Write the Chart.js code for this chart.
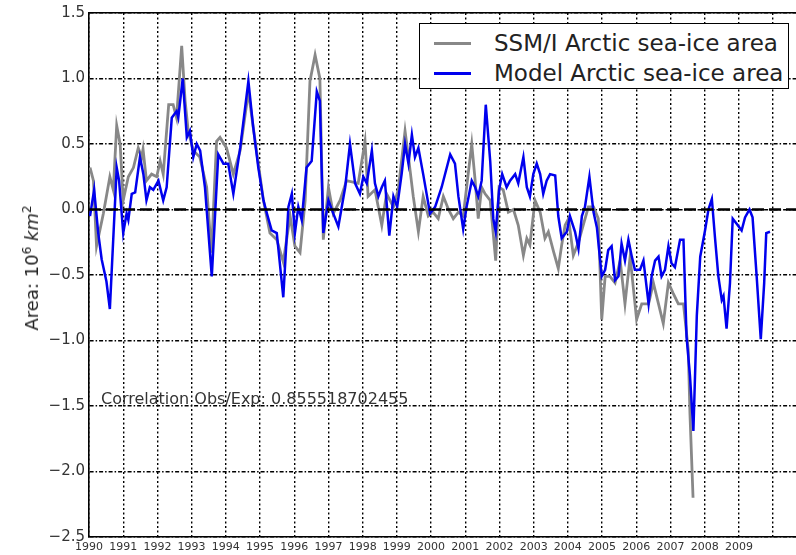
<!DOCTYPE html>
<html>
<head>
<meta charset="utf-8">
<title>Arctic sea-ice area anomaly</title>
<script src="https://cdn.jsdelivr.net/npm/chart.js@4.4.0/dist/chart.umd.min.js"></script>
<style>
  body { margin: 0; background: #fff; font-family: "DejaVu Sans", sans-serif; }
  #wrap { position: relative; width: 796px; height: 555px; overflow: hidden; }
  #ylabel {
    position: absolute; left: 31px; top: 268px;
    transform: translate(-50%, -50%) rotate(-90deg);
    font-size: 18px; color: #222; white-space: nowrap;
  }
  #ylabel sup { font-size: 12px; }
  #corr {
    position: absolute; left: 101px; top: 391px;
    font-size: 16px; line-height: 16px; color: #333; white-space: nowrap;
  }
  #legend {
    position: absolute; left: 419px; top: 23px; width: 368px; height: 64px;
    border: 1.5px solid #000; background: #fff; color: #222; font-size: 23px;
  }
  #legend .row { position: absolute; left: 0; height: 30px; line-height: 30px; white-space: nowrap; }
  #legend .swatch { position: absolute; left: 14px; top: 14px; width: 37px; height: 3px; }
  #legend .txt { position: absolute; left: 74px; top: 0; }
</style>
</head>
<body>
<div id="wrap">
  <canvas id="chart" width="796" height="555"></canvas>
  <div id="ylabel">Area: 10<sup>6</sup> <i>km</i><sup>2</sup></div>
  <div id="corr">Correlation Obs/Exp: 0.855518702455</div>
  <div id="legend">
    <div class="row" style="top:4px"><span class="swatch" style="background:#888"></span><span class="txt">SSM/I Arctic sea-ice area</span></div>
    <div class="row" style="top:34px"><span class="swatch" style="background:#0000ee"></span><span class="txt">Model Arctic sea-ice area</span></div>
  </div>
</div>
<script>
const X_MIN = 1990;
const X_MAX = 2010.67;
const Y_MIN = -2.5;
const Y_MAX = 1.5;

const obsYears = [
  1990.03, 1990.13, 1990.22, 1990.42, 1990.61, 1990.71, 1990.81, 1990.91, 1991.00, 1991.15,
  1991.30, 1991.44, 1991.54, 1991.58, 1991.68, 1991.83, 1991.98, 1992.08, 1992.17, 1992.33,
  1992.46, 1992.56, 1992.71, 1992.81, 1992.90, 1993.05, 1993.24, 1993.44, 1993.58, 1993.73,
  1993.83, 1994.02, 1994.22, 1994.42, 1994.66, 1994.80, 1994.95, 1995.10, 1995.29, 1995.49,
  1995.68, 1995.88, 1996.02, 1996.17, 1996.32, 1996.46, 1996.61, 1996.75, 1996.85, 1997.00,
  1997.14, 1997.34, 1997.53, 1997.87, 1998.07, 1998.16, 1998.36, 1998.56, 1998.70, 1998.90,
  1999.04, 1999.24, 1999.34, 1999.48, 1999.63, 1999.77, 1999.92, 2000.06, 2000.21, 2000.36,
  2000.51, 2000.65, 2000.80, 2000.94, 2001.04, 2001.19, 2001.29, 2001.38, 2001.48, 2001.58,
  2001.73, 2001.89, 2001.99, 2002.11, 2002.26, 2002.41, 2002.55, 2002.70, 2002.80, 2002.89,
  2003.04, 2003.19, 2003.33, 2003.43, 2003.58, 2003.72, 2003.82, 2003.92, 2004.02, 2004.16,
  2004.31, 2004.45, 2004.60, 2004.75, 2004.89, 2004.99, 2005.09, 2005.23, 2005.38, 2005.53,
  2005.67, 2005.82, 2006.01, 2006.16, 2006.36, 2006.50, 2006.65, 2006.79, 2006.94, 2007.08,
  2007.23, 2007.38, 2007.52, 2007.57, 2007.66
];
const obsArea = [
  0.32, 0.22, -0.28, -0.03, 0.25, 0.15, 0.64, 0.50, 0.07, 0.25,
  0.32, 0.47, 0.40, 0.46, 0.22, 0.27, 0.25, 0.37, 0.27, 0.80,
  0.80, 0.70, 1.25, 0.83, 0.60, 0.45, 0.40, 0.17, -0.33, 0.52,
  0.55, 0.47, 0.27, 0.45, 0.90, 0.63, 0.35, 0.07, -0.18, -0.23,
  -0.40, -0.05, -0.28, -0.33, 0.07, 0.98, 1.18, 1.00, -0.23, 0.17,
  -0.03, 0.07, 0.22, 0.20, 0.52, 0.10, 0.15, -0.12, 0.12, 0.02,
  0.15, 0.60, 0.40, 0.10, -0.17, 0.10, -0.05, -0.02, -0.07, 0.10,
  0.00, -0.07, -0.02, -0.05, 0.17, 0.50, 0.22, -0.07, 0.17, 0.12,
  0.07, -0.39, 0.17, 0.15, -0.02, 0.00, -0.12, -0.35, -0.22, -0.27,
  0.07, -0.02, -0.22, -0.17, -0.32, -0.45, -0.27, -0.12, -0.07, -0.35,
  -0.25, -0.12, 0.02, 0.02, -0.07, -0.84, -0.51, -0.51, -0.56, -0.39,
  -0.72, -0.36, -0.84, -0.72, -0.72, -0.56, -0.72, -0.87, -0.56, -0.64,
  -0.72, -0.72, -1.07, -1.56, -2.20
];

// Model anomaly (10^6 km^2)
const modelYears = [
  1990.03, 1990.15, 1990.27, 1990.37, 1990.51, 1990.61, 1990.81, 1990.88, 1991.00, 1991.10,
  1991.15, 1991.25, 1991.35, 1991.49, 1991.59, 1991.68, 1991.78, 1991.88, 1992.03, 1992.17,
  1992.27, 1992.42, 1992.56, 1992.61, 1992.74, 1992.86, 1992.95, 1993.05, 1993.15, 1993.25,
  1993.39, 1993.59, 1993.78, 1993.93, 1994.07, 1994.22, 1994.42, 1994.66, 1994.80, 1994.95,
  1995.10, 1995.20, 1995.34, 1995.49, 1995.68, 1995.83, 1995.93, 1996.02, 1996.12, 1996.22,
  1996.36, 1996.51, 1996.66, 1996.75, 1996.85, 1997.00, 1997.14, 1997.29, 1997.49, 1997.63,
  1997.78, 1997.92, 1998.02, 1998.12, 1998.27, 1998.36, 1998.46, 1998.56, 1998.65, 1998.78,
  1998.90, 1999.01, 1999.14, 1999.24, 1999.34, 1999.44, 1999.53, 1999.63, 1999.77, 1999.97,
  2000.12, 2000.31, 2000.56, 2000.70, 2000.80, 2000.94, 2001.04, 2001.19, 2001.29, 2001.38,
  2001.48, 2001.60, 2001.73, 2001.82, 2001.89, 2001.99, 2002.08, 2002.21, 2002.31, 2002.46,
  2002.55, 2002.70, 2002.80, 2002.89, 2002.99, 2003.09, 2003.19, 2003.28, 2003.38, 2003.48,
  2003.63, 2003.72, 2003.82, 2003.97, 2004.06, 2004.21, 2004.31, 2004.41, 2004.50, 2004.63,
  2004.75, 2004.85, 2004.99, 2005.09, 2005.18, 2005.28, 2005.38, 2005.48, 2005.57, 2005.67,
  2005.77, 2005.87, 2005.96, 2006.11, 2006.21, 2006.36, 2006.45, 2006.55, 2006.65, 2006.74,
  2006.84, 2006.94, 2007.03, 2007.13, 2007.28, 2007.38, 2007.47, 2007.57, 2007.67, 2007.77,
  2007.87, 2008.01, 2008.11, 2008.21, 2008.30, 2008.40, 2008.50, 2008.55, 2008.64, 2008.74,
  2008.82, 2008.94, 2009.08, 2009.18, 2009.31, 2009.40, 2009.52, 2009.64, 2009.74, 2009.80,
  2009.91
];
const modelArea = [
  -0.05, 0.15, -0.18, -0.38, -0.55, -0.76, 0.32, 0.22, -0.18, -0.03,
  -0.08, 0.12, 0.13, 0.40, 0.27, 0.07, 0.17, 0.15, 0.22, 0.07,
  0.17, 0.70, 0.75, 0.70, 1.00, 0.55, 0.60, 0.40, 0.50, 0.45,
  0.17, -0.51, 0.42, 0.35, 0.35, 0.12, 0.47, 0.98, 0.63, 0.32,
  0.07, -0.03, -0.16, -0.18, -0.67, 0.02, 0.12, -0.18, 0.02, -0.08,
  0.32, 0.37, 0.90, 0.83, -0.18, 0.07, -0.03, -0.13, 0.17, 0.50,
  0.20, 0.12, 0.25, 0.20, 0.45, 0.20, 0.10, 0.17, 0.22, -0.20,
  0.10, 0.02, 0.27, 0.50, 0.35, 0.57, 0.40, 0.47, 0.27, -0.03,
  0.02, 0.17, 0.42, 0.35, 0.10, -0.15, 0.02, 0.22, 0.17, 0.10,
  0.22, 0.80, 0.37, -0.07, -0.17, 0.15, 0.27, 0.17, 0.22, 0.27,
  0.20, 0.40, 0.17, 0.10, 0.27, 0.35, 0.27, 0.12, 0.22, 0.27,
  0.26, -0.05, -0.22, -0.17, -0.05, -0.17, -0.30, -0.05, 0.02, 0.25,
  -0.02, -0.14, -0.51, -0.46, -0.31, -0.28, -0.54, -0.51, -0.26, -0.39,
  -0.23, -0.36, -0.46, -0.46, -0.39, -0.72, -0.51, -0.39, -0.36, -0.51,
  -0.46, -0.28, -0.41, -0.44, -0.23, -0.23, -0.97, -1.27, -1.69, -0.81,
  -0.36, -0.16, 0.00, 0.08, -0.21, -0.51, -0.69, -0.66, -0.91, -0.56,
  -0.07, -0.11, -0.16, -0.06, 0.00, -0.06, -0.51, -0.99, -0.56, -0.18,
  -0.17
];

// dashed reference line at zero anomaly
const zeroYears = [X_MIN, X_MAX];
const zeroArea = [0, 0];

const toPoints = (xs, ys) => xs.map((x, i) => ({ x: x, y: ys[i] }));
const fmtY = v => v.toFixed(1).replace('-', '\u2212');

const ctx = document.getElementById('chart').getContext('2d');
new Chart(ctx, {
    type: 'line',
    data: {
        datasets: [
            {
                label: 'SSM/I Arctic sea-ice area',
                data: toPoints(obsYears, obsArea),
                borderColor: '#888888',
                borderWidth: 2.8,
                pointRadius: 0,
                tension: 0,
                order: 2
            },
            {
                label: 'Model Arctic sea-ice area',
                data: toPoints(modelYears, modelArea),
                borderColor: '#0000ee',
                borderWidth: 2.5,
                pointRadius: 0,
                tension: 0,
                order: 1
            },
            {
                label: 'zero',
                data: toPoints(zeroYears, zeroArea),
                borderColor: '#000',
                borderWidth: 2.6,
                borderDash: [12, 5],
                pointRadius: 0,
                order: 0
            }
        ]
    },
    options: {
        responsive: false,
        animation: false,
        parsing: false,
        layout: { padding: { top: 13, left: 0, right: 0, bottom: 0 } },
        plugins: {
            legend: { display: false },
            tooltip: { enabled: false }
        },
        scales: {
            x: {
                type: 'linear',
                position: 'bottom',
                min: X_MIN,
                max: X_MAX,
                afterFit: scale => { scale.height = 18; },
                ticks: {
                    stepSize: 1,
                    includeBounds: false,
                    autoSkip: false,
                    maxRotation: 0,
                    padding: 4,
                    color: '#333',
                    font: { family: 'DejaVu Sans', size: 11 },
                    callback: v => (v >= 2010 ? '' : String(v))
                },
                grid: { color: '#000', lineWidth: 1.4, drawTicks: false },
                border: { display: true, color: '#000', width: 1.6, dash: [2, 2.5] }
            },
            xTop: {
                type: 'linear',
                position: 'top',
                min: X_MIN,
                max: X_MAX,
                afterFit: scale => { scale.height = 0; },
                ticks: { display: false },
                grid: { display: false, drawTicks: false },
                border: { display: true, color: '#000', width: 1.6 }
            },
            y: {
                min: Y_MIN,
                max: Y_MAX,
                afterFit: scale => { scale.width = 89; },
                ticks: {
                    stepSize: 0.5,
                    padding: 4,
                    color: '#333',
                    font: { family: 'DejaVu Sans', size: 15 },
                    callback: v => fmtY(v)
                },
                grid: { color: '#000', lineWidth: 1.4, drawTicks: false },
                border: { display: true, color: '#000', width: 1.6, dash: [4, 2, 1.5, 2] }
            }
        }
    }
});
</script>
</body>
</html>
